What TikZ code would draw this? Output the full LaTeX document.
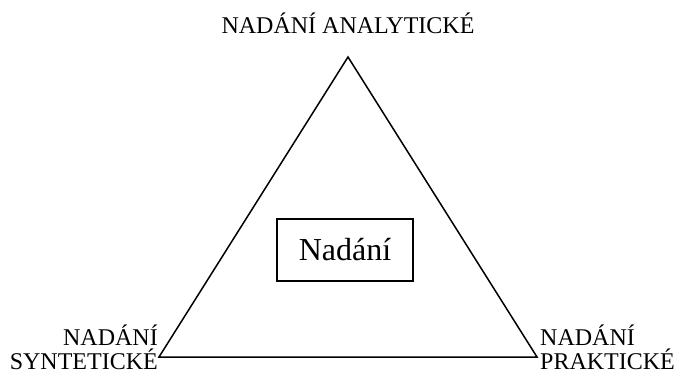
\documentclass[tikz,border=0pt]{standalone}
\usepackage{fontspec}
\setmainfont{Liberation Serif}
\begin{document}
\begin{tikzpicture}[x=1pt,y=-1pt,
  lbl/.style={font=\fontsize{24}{24.5}\selectfont, inner sep=0pt},
  edge/.style={line width=1.5pt, line join=miter}]
\useasboundingbox (0,0) rectangle (674,374);
\coordinate (A) at (348,57);
\coordinate (L) at (159,357);
\coordinate (R) at (537,357);
\draw[edge] (A) -- (L) -- (R) -- cycle;
\node[draw, line width=1.2pt, minimum width=136pt, minimum height=62pt, inner sep=0pt,
  font=\fontsize{32}{32}\selectfont] (box) at (345,250) {Nadání};
\node[lbl, anchor=base] (top) at (348,34) {NADÁNÍ ANALYTICKÉ};
\node[lbl, anchor=base east, align=right] (l1) at (158,345) {NADÁNÍ};
\node[lbl, anchor=base east, align=right] (l2) at (158,369) {SYNTETICKÉ};
\node[lbl, anchor=base west, align=left] (r1) at (540,345) {NADÁNÍ};
\node[lbl, anchor=base west, align=left] (r2) at (540,369) {PRAKTICKÉ};
\end{tikzpicture}
\end{document}
